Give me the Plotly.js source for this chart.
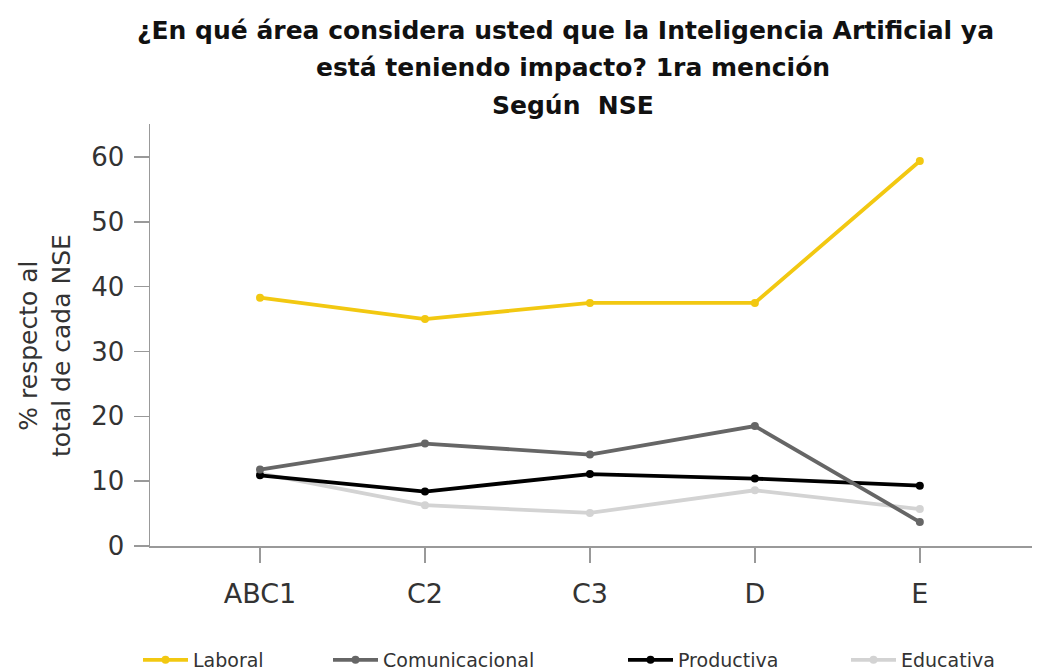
<!DOCTYPE html>
<html>
<head>
<meta charset="utf-8">
<script src="https://cdn.plot.ly/plotly-3.0.1.min.js"></script>
<style>html,body{margin:0;padding:0;background:#fff;}#chart{width:1050px;height:670px;}</style>
</head>
<body>
<div id="chart"></div>
<script>
const categories = ["ABC1", "C2", "C3", "D", "E"];
const laboral = [38.3, 35.0, 37.5, 37.5, 59.4];
const comunicacional = [11.8, 15.8, 14.1, 18.5, 3.7];
const productiva = [10.9, 8.4, 11.1, 10.4, 9.3];
const educativa = [11.2, 6.3, 5.1, 8.6, 5.7];
const seriesNames = ["Laboral", "Comunicacional", "Productiva", "Educativa"];
const titleLines = ["¿En qué área considera usted que la Inteligencia Artificial ya", "está teniendo impacto? 1ra mención", "Según\u00A0 NSE"];
const yTitleLines = ["% respecto al", "total de cada NSE"];

const FONT = "DejaVu Sans, Open Sans, sans-serif";
const colors = ["#F2C811", "#666666", "#000000", "#D3D3D3"];
const values = [laboral, comunicacional, productiva, educativa];
const legendIds = ["legend", "legend2", "legend3", "legend4"];
const legendTextX = [198, 388, 683, 906];

const traces = [];
for (let i = values.length - 1; i >= 0; i--) {
  traces.push({
    type: "scatter",
    mode: "lines+markers",
    name: seriesNames[i],
    legend: legendIds[i],
    x: categories,
    y: values[i],
    line: {color: colors[i], width: 3.8},
    marker: {color: colors[i], size: 8},
    hoverinfo: "skip"
  });
}

const layout = {
  width: 1050,
  height: 670,
  margin: {l: 150, r: 18, t: 124, b: 124},
  paper_bgcolor: "#ffffff",
  plot_bgcolor: "#ffffff",
  font: {family: FONT, color: "#333333"},
  showlegend: true,
  xaxis: {
    type: "category",
    range: [-0.667, 4.68],
    showgrid: false,
    zeroline: false,
    showline: true,
    linecolor: "#999999",
    linewidth: 1.5,
    ticks: "outside",
    ticklen: 15,
    tickwidth: 1.5,
    tickcolor: "#999999",
    tickfont: {family: FONT, size: 27, color: "#333333"},
    ticklabelstandoff: 8
  },
  yaxis: {
    range: [0, 65.1],
    dtick: 10,
    tick0: 0,
    showgrid: false,
    zeroline: false,
    showline: true,
    linecolor: "#999999",
    linewidth: 1.5,
    ticks: "outside",
    ticklen: 15,
    tickwidth: 1.5,
    tickcolor: "#999999",
    tickfont: {family: FONT, size: 26, color: "#333333"},
    ticklabelstandoff: 4
  },
  annotations: [
    {text: titleLines[0], xref: "paper", yref: "paper", x: 0.471, y: 1.2227, xanchor: "center", yanchor: "middle", showarrow: false, font: {family: FONT, size: 25, color: "#111111", weight: 700}},
    {text: titleLines[1], xref: "paper", yref: "paper", x: 0.48, y: 1.135, xanchor: "center", yanchor: "middle", showarrow: false, font: {family: FONT, size: 25, color: "#111111", weight: 700}},
    {text: titleLines[2], xref: "paper", yref: "paper", x: 0.48, y: 1.045, xanchor: "center", yanchor: "middle", showarrow: false, font: {family: FONT, size: 25, color: "#111111", weight: 700}},
    {text: yTitleLines.join("<br>"), xref: "paper", yref: "paper", x: -0.119, y: 0.474, xanchor: "center", yanchor: "middle", textangle: -90, showarrow: false, font: {family: FONT, size: 25, color: "#333333"}}
  ]
};

legendIds.forEach(function (id, i) {
  layout[id] = {
    orientation: "h",
    xref: "container", yref: "container",
    x: (legendTextX[i] - 60) / 1050, xanchor: "left",
    y: 0.015, yanchor: "middle",
    font: {family: FONT, size: 19, color: "#333333"},
    itemwidth: 45,
    bgcolor: "rgba(0,0,0,0)"
  };
});

Plotly.newPlot("chart", traces, layout, {displayModeBar: false, staticPlot: true});
</script>
</body>
</html>
